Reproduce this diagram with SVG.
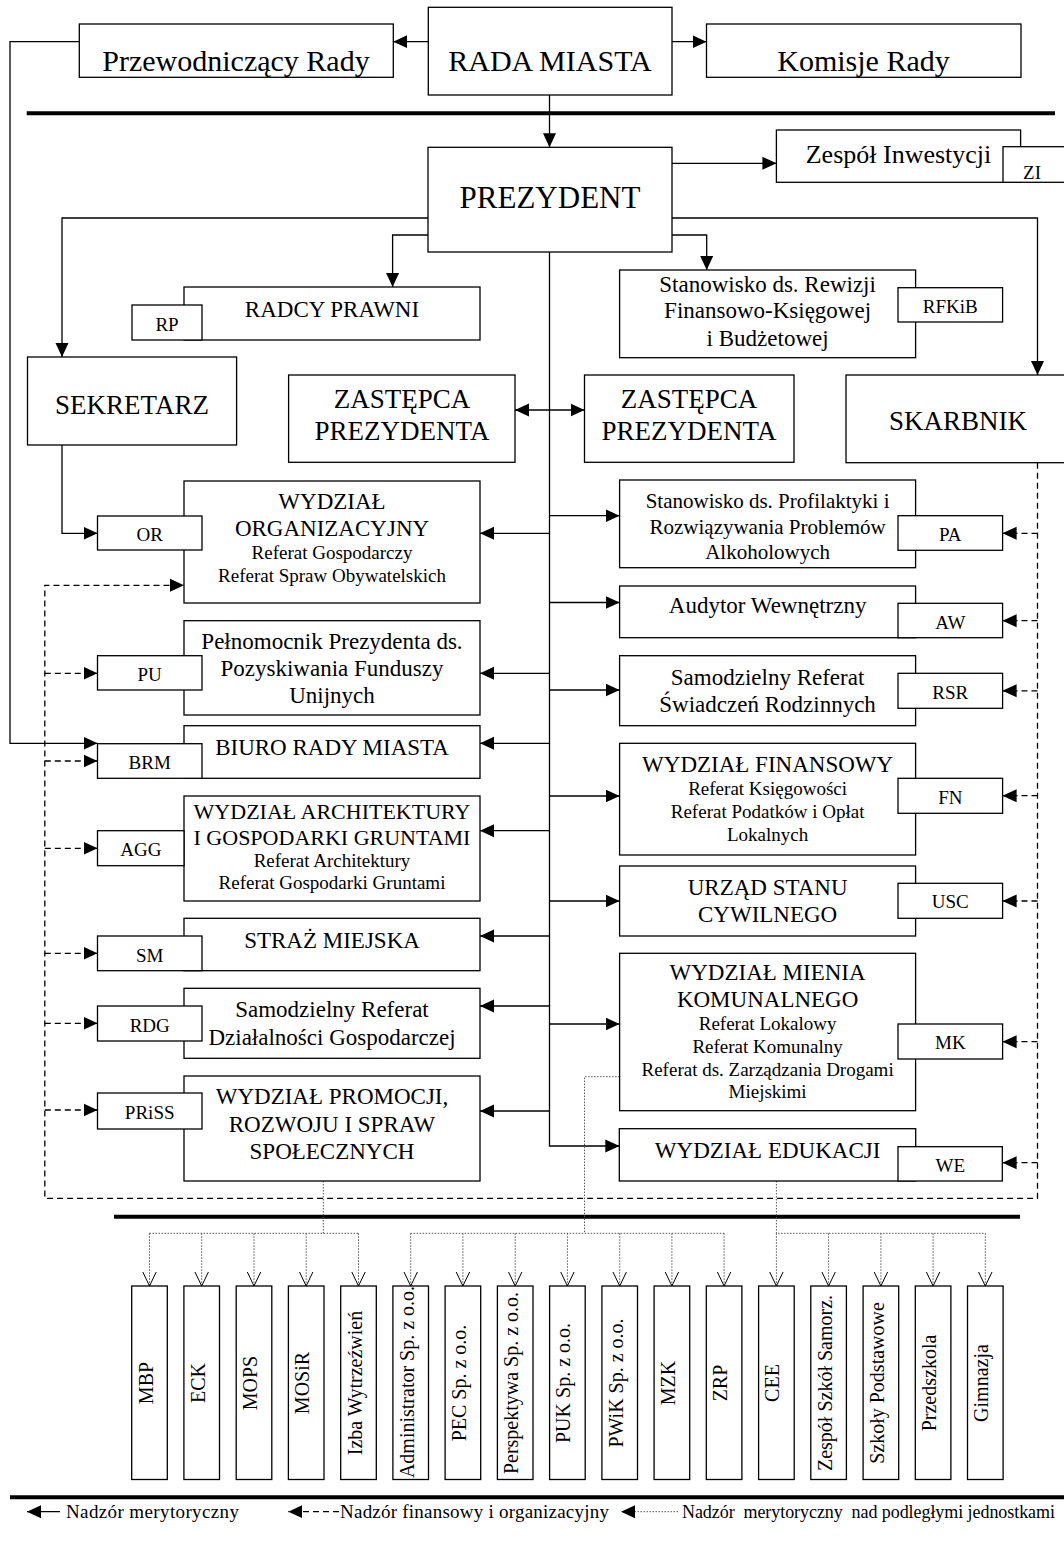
<svg xmlns="http://www.w3.org/2000/svg" width="1064" height="1544" viewBox="0 0 1064 1544">
<style>
.b{fill:#fff;stroke:#000;stroke-width:1.3}
.t{font-family:'Liberation Serif','Times New Roman',serif;fill:#000;text-anchor:middle}
.s{text-anchor:start}
.f31{font-size:31px}.f30{font-size:30px}.f27{font-size:27px}.f26{font-size:26px}.f23{font-size:23px}.f22{font-size:22px}.f21{font-size:21px}.f20{font-size:20px}.f19{font-size:19px}.f18{font-size:18px}
.ln{fill:none;stroke:#000;stroke-width:1.3}
.ds{fill:none;stroke:#000;stroke-width:1.3;stroke-dasharray:6 4}
.dt{fill:none;stroke:#555;stroke-width:1;stroke-dasharray:1.5 1.5}
.thick{stroke:#000;stroke-width:4}
</style>
<defs>
<marker id="ah" viewBox="0 0 14 14" refX="14" refY="7" markerWidth="14" markerHeight="14" markerUnits="userSpaceOnUse" orient="auto"><path d="M0,0.5 L14,7 L0,13.5 z" fill="#000"/></marker>
<marker id="ah2" viewBox="0 0 14 14" refX="14" refY="7" markerWidth="14" markerHeight="14" markerUnits="userSpaceOnUse" orient="auto-start-reverse"><path d="M0,0.5 L14,7 L0,13.5 z" fill="#000"/></marker>
<marker id="ov" viewBox="0 0 15 15" refX="14" refY="7.5" markerWidth="15" markerHeight="15" markerUnits="userSpaceOnUse" orient="auto"><path d="M0,0.8 L14,7.5 L0,14.2" fill="none" stroke="#000" stroke-width="1"/></marker>
</defs>
<rect width="1064" height="1544" fill="#fff"/>

<g id="separators">
<line class="thick" x1="26.7" y1="113.3" x2="1055" y2="113.3"/>
<line class="thick" x1="114" y1="1216.7" x2="1020" y2="1216.7"/>
<line class="thick" x1="10" y1="1497.3" x2="1064" y2="1497.3"/>
</g>

<g id="connectors">
<path class="ln" d="M428.3,41.7 H393.3" marker-end="url(#ah)"/>
<path class="ln" d="M672,41.7 H706.5" marker-end="url(#ah)"/>
<path class="ln" d="M549.5,95 V147.3" marker-end="url(#ah)"/>
<path class="ln" d="M672,163.3 H776.4" marker-end="url(#ah)"/>
<path class="ln" d="M79.3,41.7 H10 V743.3 H97.5" marker-end="url(#ah)"/>
<path class="ln" d="M428,218 H62 V357" marker-end="url(#ah)"/>
<path class="ln" d="M672,218 H1037.5 V375" marker-end="url(#ah)"/>
<path class="ln" d="M428,235 H392.6 V287" marker-end="url(#ah)"/>
<path class="ln" d="M672,235 H706.7 V270" marker-end="url(#ah)"/>
<path class="ln" d="M62,445 V533.3 H97.5" marker-end="url(#ah)"/>
<path class="ln" d="M549.5,252 V1146 H619.3" marker-end="url(#ah)"/>
<path class="ln" d="M515,410 H584.5" marker-start="url(#ah2)" marker-end="url(#ah2)"/>
<path class="ln" d="M549.5,515.7 H619.6" marker-end="url(#ah)"/>
<path class="ln" d="M549.5,602.5 H619.6" marker-end="url(#ah)"/>
<path class="ln" d="M549.5,690 H619.6" marker-end="url(#ah)"/>
<path class="ln" d="M549.5,796 H619.6" marker-end="url(#ah)"/>
<path class="ln" d="M549.5,901 H619.6" marker-end="url(#ah)"/>
<path class="ln" d="M549.5,1024 H619.6" marker-end="url(#ah)"/>
<path class="ln" d="M549.5,533.3 H480" marker-end="url(#ah)"/>
<path class="ln" d="M549.5,673.3 H480" marker-end="url(#ah)"/>
<path class="ln" d="M549.5,743.3 H480" marker-end="url(#ah)"/>
<path class="ln" d="M549.5,830.7 H480" marker-end="url(#ah)"/>
<path class="ln" d="M549.5,936 H480" marker-end="url(#ah)"/>
<path class="ln" d="M549.5,1006 H480" marker-end="url(#ah)"/>
<path class="ln" d="M549.5,1111 H480" marker-end="url(#ah)"/>

<path class="ds" d="M1037.5,462.7 V1198.3 H44.8 V585.3 H184" marker-end="url(#ah)"/>
<path class="ds" d="M1037.5,533.3 H1002.6" marker-end="url(#ah)"/>
<path class="ds" d="M1037.5,620.7 H1002.6" marker-end="url(#ah)"/>
<path class="ds" d="M1037.5,690.8 H1002.6" marker-end="url(#ah)"/>
<path class="ds" d="M1037.5,795.7 H1002.6" marker-end="url(#ah)"/>
<path class="ds" d="M1037.5,901 H1002.6" marker-end="url(#ah)"/>
<path class="ds" d="M1037.5,1041.7 H1002.6" marker-end="url(#ah)"/>
<path class="ds" d="M1037.5,1162.7 H1002.6" marker-end="url(#ah)"/>
<path class="ds" d="M44.8,673.3 H97.5" marker-end="url(#ah)"/>
<path class="ds" d="M44.8,761 H97.5" marker-end="url(#ah)"/>
<path class="ds" d="M44.8,848.3 H97.5" marker-end="url(#ah)"/>
<path class="ds" d="M44.8,953.3 H97.5" marker-end="url(#ah)"/>
<path class="ds" d="M44.8,1023.3 H97.5" marker-end="url(#ah)"/>
<path class="ds" d="M44.8,1110 H97.5" marker-end="url(#ah)"/>

<path class="dt" d="M323.3,1163 V1233.3 M149.5,1233.3 H358.5"/>
<path class="dt" d="M619.6,1076.7 H584.5 V1233.3 M410.7,1233.3 H724.1"/>
<path class="dt" d="M776.4,1181 V1233.3 H985.3"/>
<path class="dt" d="M149.5,1233.3 V1286" marker-end="url(#ov)"/>
<path class="dt" d="M201.7,1233.3 V1286" marker-end="url(#ov)"/>
<path class="dt" d="M254,1233.3 V1286" marker-end="url(#ov)"/>
<path class="dt" d="M306.2,1233.3 V1286" marker-end="url(#ov)"/>
<path class="dt" d="M358.5,1233.3 V1286" marker-end="url(#ov)"/>
<path class="dt" d="M410.7,1233.3 V1286" marker-end="url(#ov)"/>
<path class="dt" d="M462.9,1233.3 V1286" marker-end="url(#ov)"/>
<path class="dt" d="M515.2,1233.3 V1286" marker-end="url(#ov)"/>
<path class="dt" d="M567.4,1233.3 V1286" marker-end="url(#ov)"/>
<path class="dt" d="M619.7,1233.3 V1286" marker-end="url(#ov)"/>
<path class="dt" d="M671.9,1233.3 V1286" marker-end="url(#ov)"/>
<path class="dt" d="M724.1,1233.3 V1286" marker-end="url(#ov)"/>
<path class="dt" d="M776.4,1233.3 V1286" marker-end="url(#ov)"/>
<path class="dt" d="M828.6,1233.3 V1286" marker-end="url(#ov)"/>
<path class="dt" d="M880.9,1233.3 V1286" marker-end="url(#ov)"/>
<path class="dt" d="M933.1,1233.3 V1286" marker-end="url(#ov)"/>
<path class="dt" d="M985.3,1233.3 V1286" marker-end="url(#ov)"/>
</g>

<g id="n-przewodniczacy"><rect class="b" x="79.3" y="24" width="314" height="53.3"/><text class="t f30" x="236" y="71">Przewodniczący Rady</text></g>
<g id="n-rada"><rect class="b" x="428.3" y="7.3" width="243.7" height="87.7"/><text class="t f30" x="550" y="71">RADA MIASTA</text></g>
<g id="n-komisje"><rect class="b" x="706.5" y="24" width="314.5" height="53.3"/><text class="t f30" x="863.5" y="71">Komisje Rady</text></g>
<g id="n-prezydent"><rect class="b" x="428" y="147.3" width="244" height="104.7"/><text class="t f31" x="550" y="208.3">PREZYDENT</text></g>
<g id="n-zi"><rect class="b" x="776.4" y="130" width="244.2" height="52.3"/><text class="t f26" x="898.5" y="163.3">Zespół Inwestycji</text>
<rect class="b" x="1003" y="146.7" width="70" height="35.6"/><text class="t f19" x="1032" y="179">ZI</text></g>
<g id="n-radcy"><rect class="b" x="184" y="287" width="296" height="53"/><text class="t f23" x="332" y="317.3">RADCY PRAWNI</text>
<rect class="b" x="132" y="305" width="70" height="35"/><text class="t f19" x="167" y="331">RP</text></g>
<g id="n-rfkib"><rect class="b" x="619.6" y="270" width="296" height="87.7"/>
<text class="t f23" x="767.6" y="292.3">Stanowisko ds. Rewizji</text><text class="t f23" x="767.6" y="318.3">Finansowo-Księgowej</text><text class="t f23" x="767.6" y="345.7">i Budżetowej</text>
<rect class="b" x="898" y="287.7" width="104.6" height="34.3"/><text class="t f19" x="950.3" y="313.3">RFKiB</text></g>
<g id="n-sekretarz"><rect class="b" x="27.5" y="357" width="209.1" height="88"/><text class="t f27" x="132" y="414">SEKRETARZ</text></g>
<g id="n-zastepca1"><rect class="b" x="288.6" y="375" width="226.4" height="87.3"/><text class="t f27" x="402" y="408.3">ZASTĘPCA</text><text class="t f27" x="402" y="440">PREZYDENTA</text></g>
<g id="n-zastepca2"><rect class="b" x="584.5" y="375" width="209.5" height="87.3"/><text class="t f27" x="689" y="408.3">ZASTĘPCA</text><text class="t f27" x="689" y="440">PREZYDENTA</text></g>
<g id="n-skarbnik"><rect class="b" x="846" y="375" width="230" height="87.7"/><text class="t f27" x="958" y="430">SKARBNIK</text></g>

<g id="n-or"><rect class="b" x="184" y="481" width="296" height="122"/>
<text class="t f23" x="332" y="509.3">WYDZIAŁ</text><text class="t f23" x="332" y="536">ORGANIZACYJNY</text>
<text class="t f19" x="332" y="559.3">Referat Gospodarczy</text><text class="t f19" x="332" y="582">Referat Spraw Obywatelskich</text>
<rect class="b" x="97.5" y="516" width="104.5" height="34"/><text class="t f19" x="149.7" y="540.7">OR</text></g>
<g id="n-pu"><rect class="b" x="184" y="620.7" width="296" height="94.3"/>
<text class="t f23" x="332" y="648.6">Pełnomocnik Prezydenta ds.</text><text class="t f23" x="332" y="676">Pozyskiwania Funduszy</text><text class="t f23" x="332" y="703">Unijnych</text>
<rect class="b" x="97.5" y="655.7" width="104.5" height="34.3"/><text class="t f19" x="149.7" y="681">PU</text></g>
<g id="n-brm"><rect class="b" x="184" y="725.7" width="296" height="52.6"/><text class="t f23" x="332" y="755">BIURO RADY MIASTA</text>
<rect class="b" x="97.5" y="743.7" width="104.5" height="34.6"/><text class="t f19" x="149.7" y="769.3">BRM</text></g>
<g id="n-agg"><rect class="b" x="184" y="796" width="296" height="105"/>
<text class="t f22" x="332" y="819">WYDZIAŁ ARCHITEKTURY</text><text class="t f22" x="332" y="845">I GOSPODARKI GRUNTAMI</text>
<text class="t f19" x="332" y="866.7">Referat Architektury</text><text class="t f19" x="332" y="889.3">Referat Gospodarki Gruntami</text>
<rect class="b" x="97.5" y="830.7" width="86.5" height="35"/><text class="t f19" x="140.8" y="856">AGG</text></g>
<g id="n-sm"><rect class="b" x="184" y="918.3" width="296" height="52.4"/><text class="t f23" x="332" y="948">STRAŻ MIEJSKA</text>
<rect class="b" x="97.5" y="936" width="104.5" height="34.7"/><text class="t f19" x="149.7" y="962">SM</text></g>
<g id="n-rdg"><rect class="b" x="184" y="988.3" width="296" height="70"/>
<text class="t f23" x="332" y="1016.7">Samodzielny Referat</text><text class="t f23" x="332" y="1045">Działalności Gospodarczej</text>
<rect class="b" x="97.5" y="1006" width="104.5" height="35"/><text class="t f19" x="149.7" y="1032">RDG</text></g>
<g id="n-priss"><rect class="b" x="184" y="1076" width="296" height="105"/>
<text class="t f23" x="332" y="1104">WYDZIAŁ PROMOCJI,</text><text class="t f23" x="332" y="1131.7">ROZWOJU I SPRAW</text><text class="t f23" x="332" y="1159.3">SPOŁECZNYCH</text>
<rect class="b" x="97.5" y="1093" width="104.5" height="36"/><text class="t f19" x="149.7" y="1119">PRiSS</text></g>

<g id="n-pa"><rect class="b" x="619.6" y="480" width="296" height="87.7"/>
<text class="t f21" x="767.6" y="508.3">Stanowisko ds. Profilaktyki i</text><text class="t f21" x="767.6" y="534.3">Rozwiązywania Problemów</text><text class="t f21" x="767.6" y="558.5">Alkoholowych</text>
<rect class="b" x="898" y="515.7" width="104.6" height="34.6"/><text class="t f19" x="950.3" y="541">PA</text></g>
<g id="n-aw"><rect class="b" x="619.6" y="586" width="296" height="51.7"/><text class="t f23" x="767.6" y="613">Audytor Wewnętrzny</text>
<rect class="b" x="898" y="603.3" width="104.6" height="34.4"/><text class="t f19" x="950.3" y="629.3">AW</text></g>
<g id="n-rsr"><rect class="b" x="619.6" y="655.7" width="296" height="70"/>
<text class="t f23" x="767.6" y="684.5">Samodzielny Referat</text><text class="t f23" x="767.6" y="711.7">Świadczeń Rodzinnych</text>
<rect class="b" x="898" y="673.3" width="104.6" height="35"/><text class="t f19" x="950.3" y="698.7">RSR</text></g>
<g id="n-fn"><rect class="b" x="619.6" y="743.3" width="296" height="111.7"/>
<text class="t f23" x="767.6" y="771.7">WYDZIAŁ FINANSOWY</text>
<text class="t f19" x="767.6" y="795">Referat Księgowości</text><text class="t f19" x="767.6" y="818">Referat Podatków i Opłat</text><text class="t f19" x="767.6" y="840.7">Lokalnych</text>
<rect class="b" x="898" y="778.3" width="104.6" height="35"/><text class="t f19" x="950.3" y="804">FN</text></g>
<g id="n-usc"><rect class="b" x="619.6" y="866" width="296" height="70"/>
<text class="t f23" x="767.6" y="895">URZĄD STANU</text><text class="t f23" x="767.6" y="921.7">CYWILNEGO</text>
<rect class="b" x="898" y="883.3" width="104.6" height="35"/><text class="t f19" x="950.3" y="908.3">USC</text></g>
<g id="n-mk"><rect class="b" x="619.6" y="953.3" width="296" height="157.4"/>
<text class="t f23" x="767.6" y="980">WYDZIAŁ MIENIA</text><text class="t f23" x="767.6" y="1007.3">KOMUNALNEGO</text>
<text class="t f19" x="767.6" y="1030">Referat Lokalowy</text><text class="t f19" x="767.6" y="1053">Referat Komunalny</text><text class="t f19" x="767.6" y="1076">Referat ds. Zarządzania Drogami</text><text class="t f19" x="767.6" y="1098.3">Miejskimi</text>
<rect class="b" x="898" y="1024" width="104.6" height="35"/><text class="t f19" x="950.3" y="1049">MK</text></g>
<g id="n-we"><rect class="b" x="619.3" y="1128.7" width="296.4" height="52.3"/><text class="t f23" x="767.6" y="1158.3">WYDZIAŁ EDUKACJI</text>
<rect class="b" x="898" y="1146.7" width="104.3" height="34.3"/><text class="t f19" x="950.3" y="1171.7">WE</text></g>

<g id="units">
<g id="u-mbp"><rect class="b" x="131.7" y="1286" width="35.6" height="193.5"/><text class="t f20" transform="translate(152.5,1383) rotate(-90)">MBP</text></g>
<g id="u-eck"><rect class="b" x="183.9" y="1286" width="35.6" height="193.5"/><text class="t f20" transform="translate(204.7,1383) rotate(-90)">ECK</text></g>
<g id="u-mops"><rect class="b" x="236.2" y="1286" width="35.6" height="193.5"/><text class="t f20" transform="translate(257,1383) rotate(-90)">MOPS</text></g>
<g id="u-mosir"><rect class="b" x="288.4" y="1286" width="35.6" height="193.5"/><text class="t f20" transform="translate(309.2,1383) rotate(-90)">MOSiR</text></g>
<g id="u-izba"><rect class="b" x="340.7" y="1286" width="35.6" height="193.5"/><text class="t f20" transform="translate(361.5,1383) rotate(-90)">Izba Wytrzeźwień</text></g>
<g id="u-adm"><rect class="b" x="392.9" y="1286" width="35.6" height="193.5"/><text class="t f20" transform="translate(413.7,1382) rotate(-90)">Administrator Sp. z o.o.</text></g>
<g id="u-pec"><rect class="b" x="445.1" y="1286" width="35.6" height="193.5"/><text class="t f20" transform="translate(465.9,1383) rotate(-90)">PEC Sp. z o.o.</text></g>
<g id="u-persp"><rect class="b" x="497.4" y="1286" width="35.6" height="193.5"/><text class="t f20" transform="translate(518.2,1383) rotate(-90)">Perspektywa Sp. z o.o.</text></g>
<g id="u-puk"><rect class="b" x="549.6" y="1286" width="35.6" height="193.5"/><text class="t f20" transform="translate(570.4,1383) rotate(-90)">PUK Sp. z o.o.</text></g>
<g id="u-pwik"><rect class="b" x="601.9" y="1286" width="35.6" height="193.5"/><text class="t f20" transform="translate(622.7,1383) rotate(-90)">PWiK Sp. z o.o.</text></g>
<g id="u-mzk"><rect class="b" x="654.1" y="1286" width="35.6" height="193.5"/><text class="t f20" transform="translate(674.9,1383) rotate(-90)">MZK</text></g>
<g id="u-zrp"><rect class="b" x="706.3" y="1286" width="35.6" height="193.5"/><text class="t f20" transform="translate(727.1,1383) rotate(-90)">ZRP</text></g>
<g id="u-cee"><rect class="b" x="758.6" y="1286" width="35.6" height="193.5"/><text class="t f20" transform="translate(779.4,1383) rotate(-90)">CEE</text></g>
<g id="u-zss"><rect class="b" x="810.8" y="1286" width="35.6" height="193.5"/><text class="t f20" transform="translate(831.6,1383) rotate(-90)">Zespół Szkół Samorz.</text></g>
<g id="u-sp"><rect class="b" x="863.1" y="1286" width="35.6" height="193.5"/><text class="t f20" transform="translate(883.9,1383) rotate(-90)">Szkoły Podstawowe</text></g>
<g id="u-przedszkola"><rect class="b" x="915.3" y="1286" width="35.6" height="193.5"/><text class="t f20" transform="translate(936.1,1383) rotate(-90)">Przedszkola</text></g>
<g id="u-gimnazja"><rect class="b" x="967.5" y="1286" width="35.6" height="193.5"/><text class="t f20" transform="translate(988.3,1383) rotate(-90)">Gimnazja</text></g>
</g>

<g id="legend">
<path class="ln" d="M60,1511.7 H27" marker-end="url(#ah)"/>
<text class="t s f19" x="66" y="1517.5" textLength="173">Nadzór merytoryczny</text>
<path class="ds" d="M339,1511.7 H288.3" marker-end="url(#ah)"/>
<text class="t s f19" x="340" y="1517.5" textLength="269">Nadzór finansowy i organizacyjny</text>
<path class="dt" d="M678,1511.7 H621" marker-end="url(#ah)"/>
<text class="t s f18" x="682" y="1517.5" textLength="373" style="white-space:pre">Nadzór  merytoryczny  nad podległymi jednostkami</text>
</g>
</svg>
